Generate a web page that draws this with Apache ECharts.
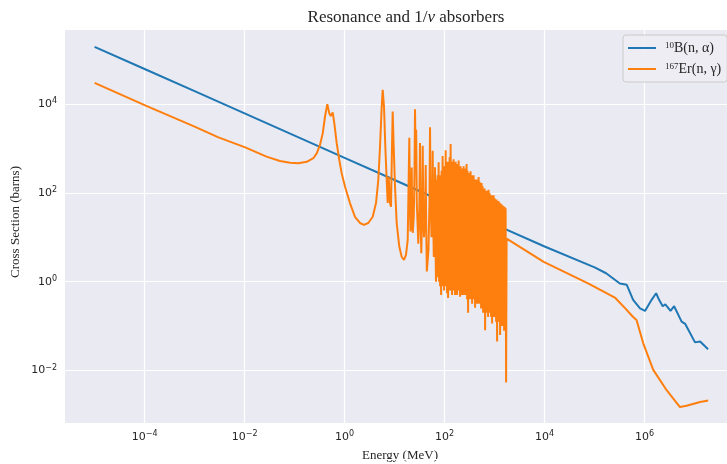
<!DOCTYPE html>
<html>
<head>
<meta charset="utf-8">
<script src="https://cdn.jsdelivr.net/npm/echarts@6/dist/echarts.min.js"></script>
<style>html,body{margin:0;padding:0;background:#fff}#c{width:727px;height:464px}</style>
</head>
<body>
<div id="c"></div>
<script>
// ---- data ----
const seriesNames = ['10B(n,alpha)', '167Er(n,gamma)'];
const xTickExponents = [-4, -2, 0, 2, 4, 6];
const yTickExponents = [-2, 0, 2, 4];

// 10B(n,alpha): energy (eV) and cross section (barns)
const boronE = [1e-5, 1e-4, 1e-3, 1e-2, 1e-1, 1, 10, 100, 1000, 1e4, 1e5, 1.7e5, 3.2e5, 4.4e5, 5.9e5, 8.1e5, 1.02e6, 1.38e6, 1.7e6, 1.95e6, 2.3e6, 2.6e6, 3.3e6, 3.9e6, 5.5e6, 6.5e6, 1.02e7, 1.29e7, 1.86e7];
const boronS = [195000, 61600, 19500, 6160, 1950, 616, 195, 61.6, 19.5, 6.2, 2.1, 1.55, 0.91, 0.85, 0.39, 0.25, 0.22, 0.39, 0.55, 0.39, 0.28, 0.31, 0.22, 0.28, 0.126, 0.112, 0.043, 0.045, 0.030];

// 167Er(n,gamma): energy (eV)
const erbiumE = [
  1e-5, 1e-4, 1e-3, 3e-3, 1e-2, 0.0275, 0.051, 0.081, 0.119, 0.175, 0.237, 0.277, 0.322, 0.365, 0.406, 0.451, 0.494, 0.527, 0.578, 0.622, 0.695, 0.783, 0.875,
  1.02, 1.28, 1.61, 2.03, 2.44, 2.98, 3.65, 4.25, 4.72, 5.11, 5.52, 5.78, 6.14, 6.52, 6.95, 7.28, 7.62, 7.83, 8.09, 8.47, 8.87, 9.16, 9.59,
  10.2, 11.0, 12.4, 13.9, 15.4, 16.9, 18.3, 19.1,
  19.7, 20.3, 20.8, 21.5, 22.0, 22.5, 23.1, 24.2, 25.0, 25.6, 26.3, 27.0, 27.8, 29.8, 31.2, 32.2, 33.0, 34.2, 35.6, 36.5, 37.5, 38.7, 40.8, 41.9, 42.8, 44.1, 47.5, 49.8, 51.1, 52.5, 54.7, 56.8, 57.8, 59.0, 60.8, 63.2, 64.3, 65.5, 67.3,
  69.2, 70.8, 72.4, 74.1, 75.9, 77.6, 79.4, 81.3, 83.2, 85.1, 87.1, 89.1, 91.2, 93.3, 95.5, 97.7,
  100, 102, 105, 107, 110, 112, 115, 117.5, 120, 123, 126, 129, 132, 135, 138, 141, 145, 148, 151, 155, 158, 162, 166, 170, 174, 178, 182, 186, 191, 195,
  200, 204, 209, 214, 219, 224, 229, 234, 240, 245, 251, 257, 263, 269, 275, 282, 288, 295, 302, 309, 316, 324, 331, 339, 347, 355, 363, 372, 380, 389,
  398, 407, 417, 427, 437, 447, 457, 468, 479, 490, 501, 513, 525, 537, 550, 562, 575, 589, 603, 617, 631, 646, 661, 676, 692, 708, 724, 741, 759, 776,
  794, 813, 832, 851, 871, 891, 912, 933, 955, 977, 1000, 1023, 1047, 1072, 1096, 1122, 1148, 1175, 1202, 1230, 1259, 1288, 1318, 1349, 1380, 1413, 1445, 1479, 1514, 1549,
  1585, 1622, 1660, 1698, 1738,
  9600, 7.4e4, 2.6e5, 4.1e5, 5.9e5, 6.9e5, 9.4e5, 1.49e6, 2.76e6, 5.1e6, 6.9e6, 1.29e7, 1.87e7];
// 167Er(n,gamma): cross section (barns)
const erbiumS = [
  30000, 9500, 3100, 1780, 1070, 655, 522, 479, 464, 501, 603, 776, 1200, 2190, 5250, 10000, 6170, 5370, 6460, 3720, 1320, 550, 275,
  138, 59, 29, 21, 19, 21, 29, 59, 195, 1100, 8700, 20900, 8700, 1100, 195, 59, 229, 251, 59, 49, 1100, 6760, 1100,
  138, 21, 6.2, 3.6, 3.1, 4.0, 8.7, 195,
  1740, 40, 13.5, 40, 372, 30, 12.6, 30, 300, 7600, 800, 2630, 60, 7.2, 40, 1320, 30, 4.4, 40, 1150, 40, 10, 40, 427, 20, 1.7, 5, 60, 3000, 80, 10, 60, 890, 30, 3.6, 40, 380, 10, 1.0,
  200, 1.58, 251, 1.26, 490, 1.0, 251, 0.79, 200, 0.50, 316, 0.79, 676, 1.0, 316, 0.63,
  398, 0.79, 912, 0.79, 316, 0.55, 501, 0.43, 251, 0.63, 631, 0.79, 1259, 0.63, 398, 0.50, 501, 0.79, 575, 0.63, 398, 0.50, 501, 0.63, 355, 0.50, 447, 0.79, 537, 0.63,
  316, 0.46, 398, 0.63, 355, 0.50, 316, 0.63, 398, 0.50, 355, 0.63, 316, 0.50, 447, 0.40, 316, 0.20, 282, 0.50, 251, 0.40, 309, 0.50, 251, 0.32, 224, 0.50, 251, 0.40,
  200, 0.26, 200, 0.40, 178, 0.32, 200, 0.40, 229, 0.32, 178, 0.39, 158, 0.25, 166, 0.32, 141, 0.20, 126, 0.25, 126, 0.081, 112, 0.20, 112, 0.25, 100, 0.16, 117, 0.20,
  100, 0.25, 89, 0.16, 89, 0.115, 79, 0.20, 89, 0.16, 76, 0.20, 71, 0.126, 71, 0.045, 66, 0.16, 66, 0.126, 60, 0.063, 58, 0.16, 55, 0.10, 52, 0.126, 50, 0.079,
  48, 0.16, 45, 0.0054, 9.3,
  2.8, 0.92, 0.43, 0.25, 0.16, 0.137, 0.041, 0.0103, 0.0036, 0.0015, 0.0016, 0.00195, 0.0021];

// ---- chart ----
const pairs = (xs, ys) => xs.map((x, i) => [x, ys[i]]);
const INK = '#262626';
const SERIF = '"Liberation Serif", "DejaVu Serif", serif';
const SANS = '"DejaVu Sans", sans-serif';

function sci(v) {
  const e = Math.round(Math.log10(v));
  return '{b|10}{s|' + (e < 0 ? '\u2212' + (-e) : String(e)) + '}';
}
const tickRich = {
  b: { fontSize: 11, fontFamily: SANS, color: INK, lineHeight: 14 },
  s: { fontSize: 8, fontFamily: SANS, color: INK, verticalAlign: 'top', lineHeight: 9 }
};

const legendLabels = {
  '10B(n,alpha)': '{s|10}{t|B(n, \u03b1)}',
  '167Er(n,gamma)': '{s|167}{t|Er(n, \u03b3)}'
};

const chart = echarts.init(document.getElementById('c'), null, { renderer: 'canvas' });
chart.setOption({
  animation: false,
  backgroundColor: '#ffffff',
  title: {
    text: '{a|Resonance and }{a|1/}{i|v}{a| absorbers}',
    left: 401, top: 4, textAlign: 'center',
    textStyle: {
      fontWeight: 'normal',
      rich: {
        a: { fontFamily: SERIF, fontSize: 17, color: INK, fontWeight: 'normal' },
        i: { fontFamily: SERIF, fontSize: 17, color: INK, fontStyle: 'italic', fontWeight: 'normal' }
      }
    }
  },
  graphic: [
    { type: 'rect', z: -10, silent: true, shape: { x: 65, y: 29, width: 662, height: 394 }, style: { fill: '#EAEAF2' } },
    { type: 'text', x: 16, y: 222, rotation: Math.PI / 2, silent: true,
      style: { text: 'Cross Section (barns)', font: '13px ' + SERIF, fill: INK, textAlign: 'center', textVerticalAlign: 'middle', align: 'center', verticalAlign: 'middle' } },
    { type: 'text', x: 400, y: 456, silent: true,
      style: { text: 'Energy (MeV)', font: '13px ' + SERIF, fill: INK, textAlign: 'center', textVerticalAlign: 'middle', align: 'center', verticalAlign: 'middle' } }
  ],
  legend: {
    orient: 'vertical', left: 623, top: 35,
    padding: [6, 6, 6, 5], itemGap: 7, itemWidth: 28, itemHeight: 2, icon: 'rect',
    backgroundColor: 'rgba(237,237,243,0.9)', borderColor: '#cccccc', borderWidth: 1, borderRadius: 3,
    formatter: n => legendLabels[n],
    textStyle: {
      padding: [0, 0, 0, 4],
      rich: {
        s: { fontFamily: SERIF, fontSize: 9, color: INK, verticalAlign: 'top', lineHeight: 9 },
        t: { fontFamily: SERIF, fontSize: 14, color: INK, lineHeight: 14 }
      }
    },
    data: seriesNames
  },
  grid: { left: 44.6, right: 0, top: 29, bottom: 4.7, containLabel: false },
  xAxis: {
    type: 'log', logBase: 10, min: 1e-6, max: Math.pow(10, 7.648), interval: 2,
    offset: -36.3,
    axisLine: { show: false }, axisTick: { show: false }, minorTick: { show: false },
    splitLine: { show: true, lineStyle: { color: '#ffffff', width: 1.2 } },
    axisLabel: {
      margin: 7, showMinLabel: false, showMaxLabel: false,
      formatter: v => xTickExponents.indexOf(Math.round(Math.log10(v))) >= 0 ? sci(v) : '',
      rich: tickRich
    }
  },
  yAxis: {
    type: 'log', logBase: 10, min: 1e-4, max: Math.pow(10, 5.691), interval: 2,
    offset: -20.4,
    axisLine: { show: false }, axisTick: { show: false }, minorTick: { show: false },
    splitLine: { show: true, lineStyle: { color: '#ffffff', width: 1.2 } },
    axisLabel: {
      margin: 8, showMinLabel: false, showMaxLabel: false,
      formatter: v => yTickExponents.indexOf(Math.round(Math.log10(v))) >= 0 ? sci(v) : '',
      rich: tickRich
    }
  },
  series: [
    { name: seriesNames[0], type: 'line', data: pairs(boronE, boronS), symbol: 'none', showSymbol: false,
      lineStyle: { color: '#1f77b4', width: 2 }, itemStyle: { color: '#1f77b4' }, z: 3 },
    { name: seriesNames[1], type: 'line', data: pairs(erbiumE, erbiumS), symbol: 'none', showSymbol: false,
      lineStyle: { color: '#ff7f0e', width: 2 }, itemStyle: { color: '#ff7f0e' }, z: 4 }
  ]
});
</script>
</body>
</html>
